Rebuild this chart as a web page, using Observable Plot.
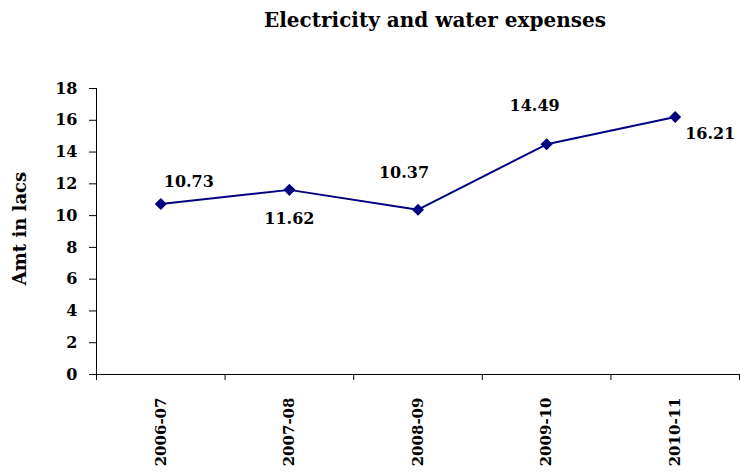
<!DOCTYPE html>
<html>
<head>
<meta charset="utf-8">
<script src="https://cdn.jsdelivr.net/npm/d3@7"></script>
<script src="https://cdn.jsdelivr.net/npm/@observablehq/plot@0.6"></script>
<style>
  html, body { margin: 0; padding: 0; background: #fff; }
  #chart { width: 740px; height: 475px; position: relative; overflow: hidden; }
  #title {
    height: 40px; line-height: 40px; box-sizing: border-box;
    padding-left: 130px; text-align: center;
    font-family: "DejaVu Serif", serif; font-weight: bold; font-size: 20px; color: #000;
  }
  svg { display: block; }
</style>
</head>
<body>
<div id="chart">
  <div id="title">Electricity and water expenses</div>
</div>
<script>
// Financial years and electricity & water expenses (in lacs)
const categories = ["2006-07", "2007-08", "2008-09", "2009-10", "2010-11"];
const expenses = [10.73, 11.62, 10.37, 14.49, 16.21];
const yTicks = [0, 2, 4, 6, 8, 10, 12, 14, 16, 18];

const rows = categories.map((period, i) => ({ i, period, value: expenses[i] }));
const xPos = d => d.i + 0.5;

// label placement around each marker (dx, dy in pixels)
const labelOffsets = [[28, -22], [0, 29], [-14, -37], [-12, -38], [35, 17]];
const labelFont = { fontFamily: "DejaVu Serif", fontWeight: "bold", fontSize: 16, fill: "#000" };

const plot = Plot.plot({
  width: 740,
  height: 435,
  marginTop: 48,
  marginBottom: 101,
  marginLeft: 96,
  marginRight: 1,
  style: { fontFamily: "DejaVu Serif", fontSize: "15px", fontWeight: "bold", color: "#000", background: "#fff" },
  x: { type: "linear", domain: [0, categories.length] },
  y: { domain: [0, 18] },
  marks: [
    // y axis with outward ticks
    Plot.axisY({ ticks: yTicks, tickSize: 7, tickPadding: 12, tickFormat: d => String(d), label: null, fontSize: 16, fontWeight: "bold" }),
    Plot.ruleX([0], { stroke: "#000", strokeWidth: 1 }),
    Plot.text(["Amt in lacs"], { frameAnchor: "left", dx: -76, dy: -3, rotate: -90, ...labelFont, fontSize: 18, textAnchor: "middle" }),
    // x axis: boundary ticks and category labels
    Plot.axisX({ ticks: d3.range(categories.length + 1), tickSize: 6, tickFormat: () => "", label: null }),
    Plot.axisX({ ticks: categories.map((c, i) => i + 0.5), tickSize: 0, tickPadding: 23, tickRotate: -90,
                 tickFormat: v => categories[Math.floor(v)], label: null, fontSize: 15, fontWeight: "bold" }),
    Plot.ruleY([0], { stroke: "#000", strokeWidth: 1 }),
    // series
    Plot.line(rows, { x: xPos, y: "value", stroke: "#000080", strokeWidth: 2 }),
    Plot.dot(rows, { x: xPos, y: "value", symbol: "square", r: 4.8, rotate: 45, fill: "#000080", stroke: "none" }),
    ...rows.map((d, k) => Plot.text([d], {
      x: xPos, y: "value", text: r => r.value.toFixed(2),
      dx: labelOffsets[k][0], dy: labelOffsets[k][1], ...labelFont
    }))
  ]
});
document.getElementById("chart").appendChild(plot);
</script>
</body>
</html>
